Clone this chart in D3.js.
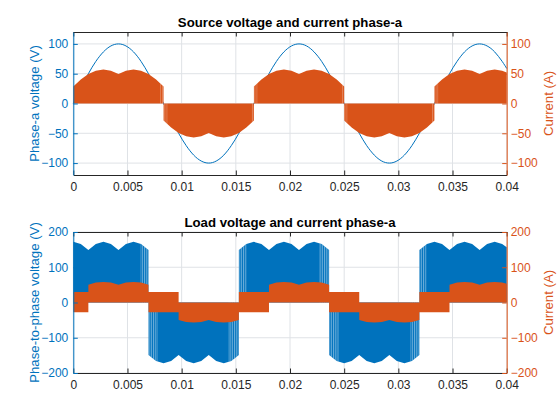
<!DOCTYPE html>
<html>
<head>
<meta charset="utf-8">
<script src="https://cdn.jsdelivr.net/npm/d3@7/dist/d3.min.js"></script>
<style>
  body { margin: 0; background: #fff; }
  svg { font-family: "Liberation Sans", Arial, Helvetica, sans-serif; }
</style>
</head>
<body>
<svg id="chart" width="560" height="420"></svg>
<script>
// ---- data (time in s, 60 Hz, one sample per 15 deg) ----
const xTicks = [0, 0.005, 0.01, 0.015, 0.02, 0.025, 0.03, 0.035, 0.04];
const yTicksTop = [-100, -50, 0, 50, 100];
const yTicksBot = [-200, -100, 0, 100, 200];

// source phase-a voltage (V)
const tSrc = [0, 0.00069, 0.00139, 0.00208, 0.00278, 0.00347, 0.00417, 0.00486, 0.00556, 0.00625, 0.00694, 0.00764,
  0.00833, 0.00903, 0.00972, 0.01042, 0.01111, 0.01181, 0.0125, 0.01319, 0.01389, 0.01458, 0.01528, 0.01597,
  0.01667, 0.01736, 0.01806, 0.01875, 0.01944, 0.02014, 0.02083, 0.02153, 0.02222, 0.02292, 0.02361, 0.02431,
  0.025, 0.02569, 0.02639, 0.02708, 0.02778, 0.02847, 0.02917, 0.02986, 0.03056, 0.03125, 0.03194, 0.03264,
  0.03333, 0.03403, 0.03472, 0.03542, 0.03611, 0.03681, 0.0375, 0.03819, 0.03889, 0.03958, 0.04];
const vSrc = [0, 25.9, 50, 70.7, 86.6, 96.6, 100, 96.6, 86.6, 70.7, 50, 25.9,
  0, -25.9, -50, -70.7, -86.6, -96.6, -100, -96.6, -86.6, -70.7, -50, -25.9,
  0, 25.9, 50, 70.7, 86.6, 96.6, 100, 96.6, 86.6, 70.7, 50, 25.9,
  0, -25.9, -50, -70.7, -86.6, -96.6, -100, -96.6, -86.6, -70.7, -50, -25.9,
  0, 25.9, 50, 70.7, 86.6, 96.6, 100, 96.6, 86.6, 70.7, 58.8];

// source phase-a current envelope (A), pwm pulses fill 0..envelope
const tCurSrc = [0, 0.00069, 0.00139, 0.00208, 0.00278, 0.00347, 0.00417, 0.00486, 0.00556, 0.00625, 0.00694, 0.00764, 0.00833,
  0.00833, 0.00903, 0.00972, 0.01042, 0.01111, 0.01181, 0.0125, 0.01319, 0.01389, 0.01458, 0.01528, 0.01597, 0.01667,
  0.01667, 0.01736, 0.01806, 0.01875, 0.01944, 0.02014, 0.02083, 0.02153, 0.02222, 0.02292, 0.02361, 0.02431, 0.025,
  0.025, 0.02569, 0.02639, 0.02708, 0.02778, 0.02847, 0.02917, 0.02986, 0.03056, 0.03125, 0.03194, 0.03264, 0.03333,
  0.03333, 0.03403, 0.03472, 0.03542, 0.03611, 0.03681, 0.0375, 0.03819, 0.03889, 0.03958, 0.04];
const iSrc = [28.5, 40.3, 49.4, 55.1, 57, 55.1, 49.4, 55.1, 57, 55.1, 49.4, 40.3, 28.5,
  -28.5, -40.3, -49.4, -55.1, -57, -55.1, -49.4, -55.1, -57, -55.1, -49.4, -40.3, -28.5,
  28.5, 40.3, 49.4, 55.1, 57, 55.1, 49.4, 55.1, 57, 55.1, 49.4, 40.3, 28.5,
  -28.5, -40.3, -49.4, -55.1, -57, -55.1, -49.4, -55.1, -57, -55.1, -49.4, -40.3, -28.5,
  28.5, 40.3, 49.4, 55.1, 57, 55.1, 49.4, 55.1, 57, 55.1, 52.1];
// spans around the polarity change where the pulses thin out
const srcFringe = [[0.0080, 0.0087], [0.0164, 0.0170], [0.0247, 0.0253], [0.0331, 0.0337]];

// load phase-to-phase voltage envelope (V), pwm pulses fill 0..envelope
const tLL = [0, 0.00069, 0.00139, 0.00208, 0.00278, 0.00347, 0.00417, 0.00486, 0.00556, 0.00625, 0.00694,
  0.00694, 0.00764, 0.00833, 0.00903, 0.00972, 0.01042, 0.01111, 0.01181, 0.0125, 0.01319, 0.01389, 0.01458, 0.01528,
  0.01528, 0.01597, 0.01667, 0.01736, 0.01806, 0.01875, 0.01944, 0.02014, 0.02083, 0.02153, 0.02222, 0.02292, 0.02361,
  0.02361, 0.02431, 0.025, 0.02569, 0.02639, 0.02708, 0.02778, 0.02847, 0.02917, 0.02986, 0.03056, 0.03125, 0.03194,
  0.03194, 0.03264, 0.03333, 0.03403, 0.03472, 0.03542, 0.03611, 0.03681, 0.0375, 0.03819, 0.03889, 0.03958, 0.04];
const vLL = [172, 166, 149, 166, 172, 166, 149, 166, 172, 166, 149,
  -149, -166, -172, -166, -149, -166, -172, -166, -149, -166, -172, -166, -149,
  149, 166, 172, 166, 149, 166, 172, 166, 149, 166, 172, 166, 149,
  -149, -166, -172, -166, -149, -166, -172, -166, -149, -166, -172, -166, -149,
  149, 166, 172, 166, 149, 166, 172, 166, 149, 166, 172, 166, 157];
const llFringe = [[0.0062, 0.0078], [0.0143, 0.0160], [0.0227, 0.0245], [0.0311, 0.0326]];

// load phase-a current band (A): upper and lower edge of the pulses
const tLoad = [0, 0.00069, 0.00139,
  0.00139, 0.00208, 0.00278, 0.00347, 0.00417, 0.00486, 0.00556, 0.00625, 0.00694,
  0.00694, 0.00764, 0.00833, 0.00903, 0.00972,
  0.00972, 0.01042, 0.01111, 0.01181, 0.0125, 0.01319, 0.01389, 0.01458, 0.01528,
  0.01528, 0.01597, 0.01667, 0.01736, 0.01806,
  0.01806, 0.01875, 0.01944, 0.02014, 0.02083, 0.02153, 0.02222, 0.02292, 0.02361,
  0.02361, 0.02431, 0.025, 0.02569, 0.02639,
  0.02639, 0.02708, 0.02778, 0.02847, 0.02917, 0.02986, 0.03056, 0.03125, 0.03194,
  0.03194, 0.03264, 0.03333, 0.03403, 0.03472,
  0.03472, 0.03542, 0.03611, 0.03681, 0.0375, 0.03819, 0.03889, 0.03958, 0.04];
const iLoadHi = [30, 30, 30,
  50.7, 56.5, 58.5, 56.5, 50.7, 56.5, 58.5, 56.5, 50.7,
  30, 30, 30, 30, 30,
  0, 0, 0, 0, 0, 0, 0, 0, 0,
  30, 30, 30, 30, 30,
  50.7, 56.5, 58.5, 56.5, 50.7, 56.5, 58.5, 56.5, 50.7,
  30, 30, 30, 30, 30,
  0, 0, 0, 0, 0, 0, 0, 0, 0,
  30, 30, 30, 30, 30,
  50.7, 56.5, 58.5, 56.5, 50.7, 56.5, 58.5, 56.5, 53.4];
const iLoadLo = [-28, -28, -28,
  0, 0, 0, 0, 0, 0, 0, 0, 0,
  -28, -28, -28, -28, -28,
  -49.4, -55.1, -57, -55.1, -49.4, -55.1, -57, -55.1, -49.4,
  -28, -28, -28, -28, -28,
  0, 0, 0, 0, 0, 0, 0, 0, 0,
  -28, -28, -28, -28, -28,
  -49.4, -55.1, -57, -55.1, -49.4, -55.1, -57, -55.1, -49.4,
  -28, -28, -28, -28, -28,
  0, 0, 0, 0, 0, 0, 0, 0, 0];

// ---- styling ----
const blue = "#0072BD";
const orange = "#D95319";
const dark = "#262626";
const gridColor = "#dfe2e6";
const plotLeft = 73.3, plotRight = 506.7;
const tickLen = 4.5;

const svg = d3.select("#chart");
const defs = svg.append("defs");

// thin light gaps between pulses, laid over the fringe spans
function addGapPattern(id, opacity) {
    const pat = defs.append("pattern")
        .attr("id", id)
        .attr("patternUnits", "userSpaceOnUse")
        .attr("width", 1.8)
        .attr("height", 20);
    pat.append("rect")
        .attr("width", 0.7)
        .attr("height", 20)
        .attr("fill", "#fff")
        .attr("opacity", opacity);
}
addGapPattern("gapsBlue", 0.55);
addGapPattern("gapsOrange", 0.35);

function makePanel(top, bottom, domain) {
    const g = svg.append("g");
    const x = d3.scaleLinear().domain([0, 0.04]).range([plotLeft, plotRight]);
    const yL = d3.scaleLinear().domain(domain).range([bottom, top]);
    const yR = d3.scaleLinear().domain(domain).range([bottom, top]);
    return { g, x, yL, yR, top, bottom };
}

function addFringeClip(p, id, spans) {
    defs.append("clipPath")
        .attr("id", id)
        .selectAll("rect").data(spans).join("rect")
        .attr("x", d => p.x(d[0]))
        .attr("width", d => p.x(d[1]) - p.x(d[0]))
        .attr("y", p.top)
        .attr("height", p.bottom - p.top);
}

function drawGrid(p, yTicks) {
    const grid = p.g.append("g").attr("stroke", gridColor).attr("stroke-width", 1);
    grid.selectAll("line.v").data(xTicks).join("line")
        .attr("class", "v")
        .attr("x1", d => p.x(d)).attr("x2", d => p.x(d))
        .attr("y1", p.top).attr("y2", p.bottom);
    grid.selectAll("line.h").data(yTicks).join("line")
        .attr("class", "h")
        .attr("x1", plotLeft).attr("x2", plotRight)
        .attr("y1", d => p.yL(d)).attr("y2", d => p.yL(d));
}

function styleAxis(sel, color) {
    sel.select(".domain").attr("stroke", color);
    sel.selectAll(".tick line").attr("stroke", color);
    sel.selectAll(".tick text").attr("fill", color).attr("font-size", 12);
    sel.attr("font-family", null);
}

function drawAxes(p, yTicks, title, leftLabel, rightLabel) {
    const fmt = d3.format("~g");

    // top edge of the box, ticks only
    p.g.append("g")
        .attr("transform", `translate(0,${p.top})`)
        .call(d3.axisTop(p.x).tickValues(xTicks).tickSizeInner(-tickLen).tickSizeOuter(0).tickFormat(""))
        .call(s => styleAxis(s, dark));

    p.g.append("g")
        .attr("transform", `translate(0,${p.bottom})`)
        .call(d3.axisBottom(p.x).tickValues(xTicks).tickSizeInner(-tickLen).tickSizeOuter(0)
            .tickPadding(7).tickFormat(fmt))
        .call(s => styleAxis(s, dark));

    p.g.append("g")
        .attr("transform", `translate(${plotLeft},0)`)
        .call(d3.axisLeft(p.yL).tickValues(yTicks).tickSizeInner(-tickLen).tickSizeOuter(0).tickPadding(5))
        .call(s => styleAxis(s, blue));

    p.g.append("g")
        .attr("transform", `translate(${plotRight},0)`)
        .call(d3.axisRight(p.yR).tickValues(yTicks).tickSizeInner(-tickLen).tickSizeOuter(0).tickPadding(4))
        .call(s => styleAxis(s, orange));

    const midY = (p.top + p.bottom) / 2;

    // titles and axis labels
    p.g.append("text")
        .attr("x", (plotLeft + plotRight) / 2)
        .attr("y", p.top - 5.5)
        .attr("text-anchor", "middle")
        .attr("font-size", 13.2)
        .attr("font-weight", "bold")
        .attr("fill", "#000")
        .text(title);

    p.g.append("text")
        .attr("transform", `translate(39,${midY}) rotate(-90)`)
        .attr("text-anchor", "middle")
        .attr("font-size", 13.2)
        .attr("fill", blue)
        .text(leftLabel);

    p.g.append("text")
        .attr("transform", `translate(553,${midY}) rotate(-90)`)
        .attr("text-anchor", "middle")
        .attr("font-size", 13.2)
        .attr("fill", orange)
        .text(rightLabel);
}

// ---- top: source voltage and current ----
const topP = makePanel(32, 175, [-120, 120]);
drawGrid(topP, yTicksTop);
addFringeClip(topP, "clipSrcFringe", srcFringe);

topP.g.append("path")
    .datum(tSrc)
    .attr("fill", "none")
    .attr("stroke", blue)
    .attr("stroke-width", 1)
    .attr("d", d3.line()
        .x(d => topP.x(d))
        .y((d, i) => topP.yL(vSrc[i]))
        .curve(d3.curveNatural));

const srcArea = d3.area()
    .x(d => topP.x(d))
    .y0(topP.yR(0))
    .y1((d, i) => topP.yR(iSrc[i]));

topP.g.append("path")
    .datum(tCurSrc)
    .attr("fill", orange)
    .attr("d", srcArea);

topP.g.append("path")
    .datum(tCurSrc)
    .attr("fill", "url(#gapsOrange)")
    .attr("clip-path", "url(#clipSrcFringe)")
    .attr("d", srcArea);

drawAxes(topP, yTicksTop, "Source voltage and current phase-a", "Phase-a voltage (V)", "Current (A)");

// ---- bottom: load voltage and current ----
const botP = makePanel(232, 373, [-200, 200]);
drawGrid(botP, yTicksBot);
addFringeClip(botP, "clipLLFringe", llFringe);

const llArea = d3.area()
    .x(d => botP.x(d))
    .y0(botP.yL(0))
    .y1((d, i) => botP.yL(vLL[i]));

botP.g.append("path")
    .datum(tLL)
    .attr("fill", blue)
    .attr("d", llArea);

botP.g.append("path")
    .datum(tLL)
    .attr("fill", "url(#gapsBlue)")
    .attr("clip-path", "url(#clipLLFringe)")
    .attr("d", llArea);

botP.g.append("path")
    .datum(tLoad)
    .attr("fill", orange)
    .attr("d", d3.area()
        .x(d => botP.x(d))
        .y0((d, i) => botP.yR(iLoadLo[i]))
        .y1((d, i) => botP.yR(iLoadHi[i])));

drawAxes(botP, yTicksBot, "Load voltage and current phase-a", "Phase-to-phase voltage (V)", "Current (A)");
</script>
</body>
</html>
